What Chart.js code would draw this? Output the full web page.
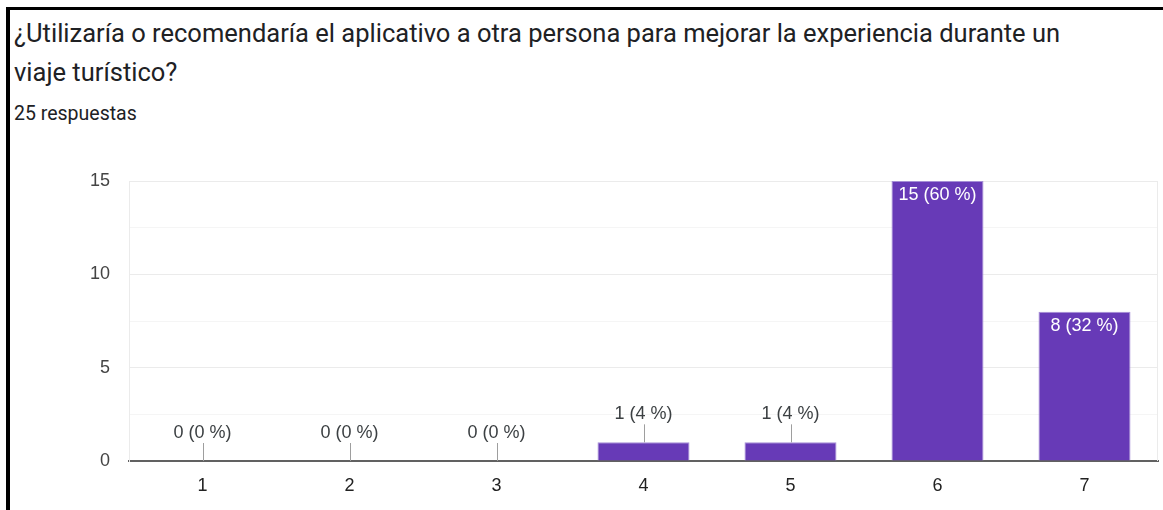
<!DOCTYPE html>
<html>
<head>
<meta charset="utf-8">
<script src="https://cdn.jsdelivr.net/npm/chart.js@4"></script>
<style>
  html, body { margin: 0; padding: 0; background: #fff; }
  body { width: 1163px; height: 510px; position: relative; overflow: hidden; }
  .frame {
    position: absolute; left: 6px; top: 7px; width: 1300px; height: 600px;
    border-left: 4px solid #000; border-top: 3px solid #000;
  }
  .title {
    position: absolute; left: 14px; top: 14px;
    font-family: Roboto, sans-serif; font-size: 25.5px; line-height: 39px;
    color: #202124; white-space: nowrap;
  }
  .subtitle {
    position: absolute; left: 14px; top: 102px; line-height: 24px;
    font-family: Roboto, sans-serif; font-size: 19.5px; color: #202124;
  }
  #chart { position: absolute; left: 0; top: 0; }
</style>
</head>
<body>
<div class="frame"></div>
<div class="title">¿Utilizaría o recomendaría el aplicativo a otra persona para mejorar la experiencia durante un<br>viaje turístico?</div>
<div class="subtitle">25 respuestas</div>
<canvas id="chart" width="1163" height="510"></canvas>
<script>
const categories = ['1', '2', '3', '4', '5', '6', '7'];
const counts = [0, 0, 0, 1, 1, 15, 8];
const percents = [0, 0, 0, 4, 4, 60, 32];
const yTicks = [0, 5, 10, 15];

// value labels: inside the bar when it is tall enough, otherwise above with a leader line
const barLabels = {
  id: 'barLabels',
  afterDatasetsDraw(chart) {
    const ctx = chart.ctx;
    const meta = chart.getDatasetMeta(0);
    ctx.save();
    ctx.font = '18px Arial, "Liberation Sans", sans-serif';
    ctx.textAlign = 'center';
    ctx.textBaseline = 'middle';
    meta.data.forEach((bar, i) => {
      const text = counts[i] + ' (' + percents[i] + ' %)';
      if (bar.base - bar.y > 40) {
        ctx.fillStyle = '#ffffff';
        ctx.fillText(text, bar.x, bar.y + 14);
      } else {
        ctx.strokeStyle = '#9e9e9e';
        ctx.lineWidth = 1;
        ctx.beginPath();
        ctx.moveTo(Math.round(bar.x) + 0.5, bar.y - 18);
        ctx.lineTo(Math.round(bar.x) + 0.5, bar.y);
        ctx.stroke();
        ctx.fillStyle = '#3c4043';
        ctx.fillText(text, bar.x, bar.y - 28);
      }
    });
    ctx.restore();
  }
};

// light frame line on the right side of the plot area
const plotEdge = {
  id: 'plotEdge',
  beforeDatasetsDraw(chart) {
    const { ctx, chartArea } = chart;
    ctx.save();
    ctx.strokeStyle = '#ebebeb';
    ctx.lineWidth = 1;
    ctx.beginPath();
    ctx.moveTo(chartArea.right - 0.5, chartArea.top);
    ctx.lineTo(chartArea.right - 0.5, chartArea.bottom);
    ctx.stroke();
    ctx.restore();
  }
};

new Chart(document.getElementById('chart').getContext('2d'), {
  type: 'bar',
  data: {
    labels: categories,
    datasets: [{
      data: counts,
      backgroundColor: '#673ab7',
      borderColor: '#a58fd6',
      borderWidth: 1,
      barPercentage: 0.626,
      categoryPercentage: 1
    }]
  },
  options: {
    responsive: false,
    animation: false,
    layout: { padding: { left: 0, top: 181, right: 5, bottom: 0 } },
    plugins: { legend: { display: false }, tooltip: { enabled: false }, title: { display: false } },
    scales: {
      x: {
        grid: { display: false },
        border: { color: '#616161', width: 2 },
        ticks: { color: '#222', font: { family: 'Arial', size: 18 }, padding: 6 },
        afterFit(scale) { scale.height = 49; }
      },
      y: {
        min: 0,
        max: yTicks[yTicks.length - 1],
        ticks: {
          stepSize: 2.5,
          color: '#444',
          font: { family: 'Arial', size: 18 },
          padding: 19,
          callback: (v) => (yTicks.includes(v) ? String(v) : '')
        },
        grid: {
          color: (c) => (c.tick && yTicks.includes(c.tick.value) ? '#ebebeb' : '#f5f5f5'),
          drawTicks: false
        },
        border: { color: '#ebebeb' },
        afterFit(scale) { scale.width = 129; }
      }
    }
  },
  plugins: [barLabels, plotEdge]
});
</script>
</body>
</html>
